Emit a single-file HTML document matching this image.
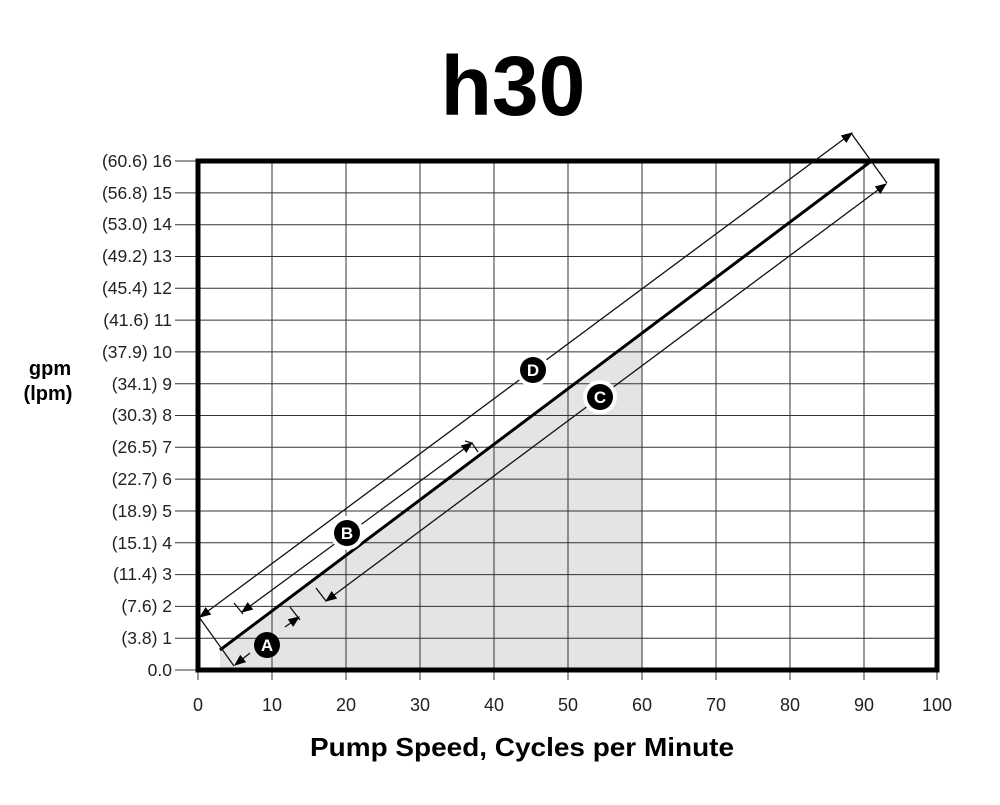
<!DOCTYPE html>
<html><head><style>body{margin:0;background:#fff}</style></head><body>
<svg width="1000" height="800" xmlns="http://www.w3.org/2000/svg" font-family="Liberation Sans, sans-serif">
<defs><marker id="ah" viewBox="0 0 10 10" refX="9" refY="5" markerWidth="9" markerHeight="9" orient="auto-start-reverse"><path d="M0,1 L10,5 L0,9 z" fill="#000"/></marker></defs>
<text x="513" y="115" text-anchor="middle" font-size="84" font-weight="bold">h30</text>
<polygon points="220,670 220,650 642,333 642,670" fill="#e4e4e4"/>
<g stroke="#333" stroke-width="1">
<line x1="272" y1="161" x2="272" y2="680"/><line x1="346" y1="161" x2="346" y2="680"/><line x1="420" y1="161" x2="420" y2="680"/><line x1="494" y1="161" x2="494" y2="680"/><line x1="568" y1="161" x2="568" y2="680"/><line x1="642" y1="161" x2="642" y2="680"/><line x1="716" y1="161" x2="716" y2="680"/><line x1="790" y1="161" x2="790" y2="680"/><line x1="864" y1="161" x2="864" y2="680"/><line x1="198" y1="670" x2="198" y2="680"/><line x1="937" y1="670" x2="937" y2="680"/>
</g>
<g stroke="#333" stroke-width="1">
<line x1="175" y1="670" x2="937" y2="670"/><line x1="175" y1="638.2" x2="937" y2="638.2"/><line x1="175" y1="606.4" x2="937" y2="606.4"/><line x1="175" y1="574.6" x2="937" y2="574.6"/><line x1="175" y1="542.8" x2="937" y2="542.8"/><line x1="175" y1="511" x2="937" y2="511"/><line x1="175" y1="479.1" x2="937" y2="479.1"/><line x1="175" y1="447.3" x2="937" y2="447.3"/><line x1="175" y1="415.5" x2="937" y2="415.5"/><line x1="175" y1="383.7" x2="937" y2="383.7"/><line x1="175" y1="351.9" x2="937" y2="351.9"/><line x1="175" y1="320.1" x2="937" y2="320.1"/><line x1="175" y1="288.3" x2="937" y2="288.3"/><line x1="175" y1="256.5" x2="937" y2="256.5"/><line x1="175" y1="224.7" x2="937" y2="224.7"/><line x1="175" y1="192.9" x2="937" y2="192.9"/><line x1="175" y1="161" x2="937" y2="161"/>
</g>
<rect x="198" y="161" width="739" height="509" fill="none" stroke="#000" stroke-width="5"/>
<g font-size="17.5" text-anchor="end" fill="#222">
<text x="172" y="676">0.0</text><text x="172" y="644">(3.8) 1</text><text x="172" y="612">(7.6) 2</text><text x="172" y="580">(11.4) 3</text><text x="172" y="549">(15.1) 4</text><text x="172" y="517">(18.9) 5</text><text x="172" y="485">(22.7) 6</text><text x="172" y="453">(26.5) 7</text><text x="172" y="421">(30.3) 8</text><text x="172" y="390">(34.1) 9</text><text x="172" y="358">(37.9) 10</text><text x="172" y="326">(41.6) 11</text><text x="172" y="294">(45.4) 12</text><text x="172" y="262">(49.2) 13</text><text x="172" y="230">(53.0) 14</text><text x="172" y="199">(56.8) 15</text><text x="172" y="167">(60.6) 16</text>
</g>
<g font-size="18" text-anchor="middle" fill="#222">
<text x="198" y="711">0</text><text x="272" y="711">10</text><text x="346" y="711">20</text><text x="420" y="711">30</text><text x="494" y="711">40</text><text x="568" y="711">50</text><text x="642" y="711">60</text><text x="716" y="711">70</text><text x="790" y="711">80</text><text x="864" y="711">90</text><text x="937" y="711">100</text>
</g>
<text x="50" y="375" text-anchor="middle" font-size="20" font-weight="bold">gpm</text>
<text x="48" y="400" text-anchor="middle" font-size="20" font-weight="bold">(lpm)</text>
<text x="522" y="756" text-anchor="middle" font-size="26" font-weight="bold" textLength="424" lengthAdjust="spacingAndGlyphs">Pump Speed, Cycles per Minute</text>
<line x1="220" y1="650" x2="870" y2="162" stroke="#000" stroke-width="3"/>
<g stroke="#111" stroke-width="1.3" fill="none">
<line x1="199" y1="617" x2="234" y2="666"/>
<line x1="851" y1="133" x2="887" y2="183"/>
<line x1="200" y1="617" x2="852" y2="133" marker-start="url(#ah)" marker-end="url(#ah)"/>
<line x1="326" y1="601" x2="886" y2="184" marker-start="url(#ah)" marker-end="url(#ah)"/>
<polyline points="316,588 326,601"/>
<line x1="242" y1="612" x2="472" y2="443" marker-start="url(#ah)" marker-end="url(#ah)"/>
<polyline points="234,603 243,614"/><polyline points="465,441 472,443 478,452"/>
<line x1="250" y1="653" x2="235" y2="665" marker-end="url(#ah)"/>
<line x1="285" y1="627" x2="299" y2="617" marker-end="url(#ah)"/>
<polyline points="290,607 300,620"/>
</g>
<g font-size="17" font-weight="bold" text-anchor="middle">
<circle cx="533" cy="370" r="17" fill="#fff"/><circle cx="533" cy="370" r="13" fill="#000"/><text x="533" y="376" fill="#fff">D</text>
<circle cx="600" cy="397" r="17" fill="#fff"/><circle cx="600" cy="397" r="13" fill="#000"/><text x="600" y="403" fill="#fff">C</text>
<circle cx="347" cy="533" r="17" fill="#fff"/><circle cx="347" cy="533" r="13" fill="#000"/><text x="347" y="539" fill="#fff">B</text>
<circle cx="267" cy="645" r="13" fill="#000"/><text x="267" y="651" fill="#fff">A</text>
</g>
</svg>
</body></html>
